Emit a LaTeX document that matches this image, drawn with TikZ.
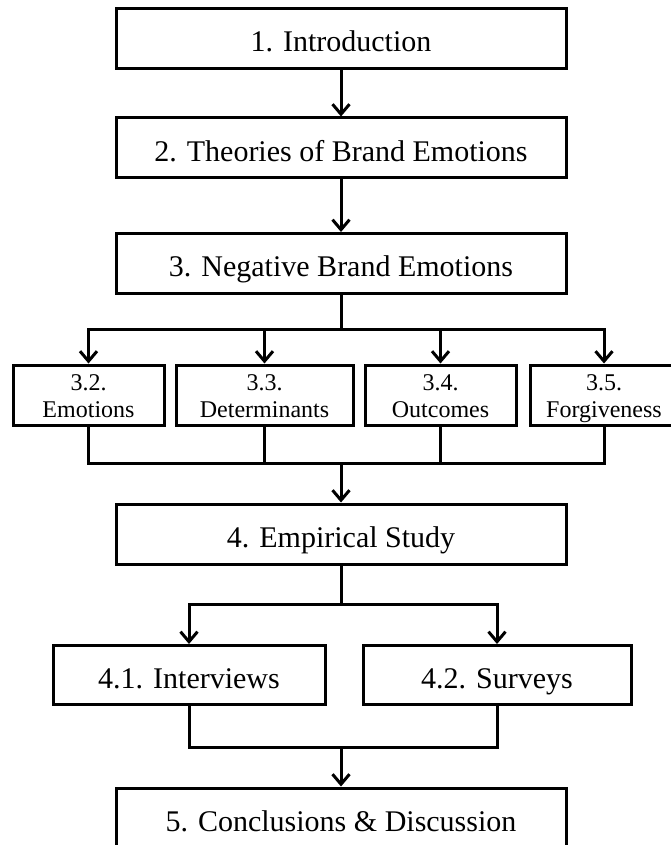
\documentclass[tikz,border=0pt]{standalone}
\usepackage{fontspec}
\setmainfont{Liberation Serif}
\usetikzlibrary{arrows.meta}

\begin{document}
\begin{tikzpicture}[x=1pt,y=-1pt,
  line width=3pt,
  bigbox/.style={draw, minimum width=450pt, minimum height=60pt, inner sep=0pt,
    font=\fontsize{30}{34}\selectfont, text height=27pt, text depth=1pt},
  subbox/.style={draw, minimum height=60pt, inner sep=0pt, align=center,
    font=\fontsize{24}{27}\selectfont, text height=44pt, text depth=0pt},
  midbox/.style={draw, minimum height=59pt, inner sep=0pt,
    font=\fontsize{30}{34}\selectfont, text height=27pt, text depth=1pt},
  arr/.style={-{Straight Barb[length=10pt,width=17pt]}},
  wire/.style={line join=miter}]
  \useasboundingbox (0,0) rectangle (670,845);

  % main chain
  \node[bigbox] (intro)  at (341,39)    {1. Introduction};
  \node[bigbox] (theory) at (341,148)   {2. Theories of Brand Emotions};
  \node[bigbox] (neg)    at (341,263.5) {3. Negative Brand Emotions};

  % sub-sections of chapter 3
  \node[subbox, minimum width=151pt] (emo)  at (88.5,395)  {3.2.\\Emotions};
  \node[subbox, minimum width=177pt] (det)  at (264.5,395) {3.3.\\Determinants};
  \node[subbox, minimum width=151pt] (out)  at (440.5,395) {3.4.\\Outcomes};
  \node[subbox, minimum width=148pt] (forg) at (604,395)   {3.5.\\Forgiveness};

  \node[bigbox] (emp) at (341,534) {4. Empirical Study};

  \node[midbox, minimum width=272pt] (intv) at (189,675) {4.1. Interviews};
  \node[midbox, minimum width=268pt] (surv) at (497,675) {4.2. Surveys};

  \node[bigbox] (concl) at (341,818) {5. Conclusions \& Discussion};

  % branching points
  \coordinate (split1) at (341,329);
  \coordinate (merge1) at (341,463);
  \coordinate (split2) at (341,604);
  \coordinate (merge2) at (341,747);

  \draw[arr] (intro) -- (theory);
  \draw[arr] (theory) -- (neg);

  \draw[wire] (neg) -- (split1);
  \draw[arr, wire] (split1) -| (emo);
  \draw[arr, wire] (split1) -| (det);
  \draw[arr, wire] (split1) -| (out);
  \draw[arr, wire] (split1) -| (forg);

  \draw[wire] (emo) |- (merge1);
  \draw[wire] (det) |- (merge1);
  \draw[wire] (out) |- (merge1);
  \draw[wire] (forg) |- (merge1);
  \draw[arr] (merge1) -- (emp);

  \draw[wire] (emp) -- (split2);
  \draw[arr, wire] (split2) -| (intv);
  \draw[arr, wire] (split2) -| (surv);

  \draw[wire] (intv) |- (merge2);
  \draw[wire] (surv) |- (merge2);
  \draw[arr] (merge2) -- (concl);
\end{tikzpicture}
\end{document}
